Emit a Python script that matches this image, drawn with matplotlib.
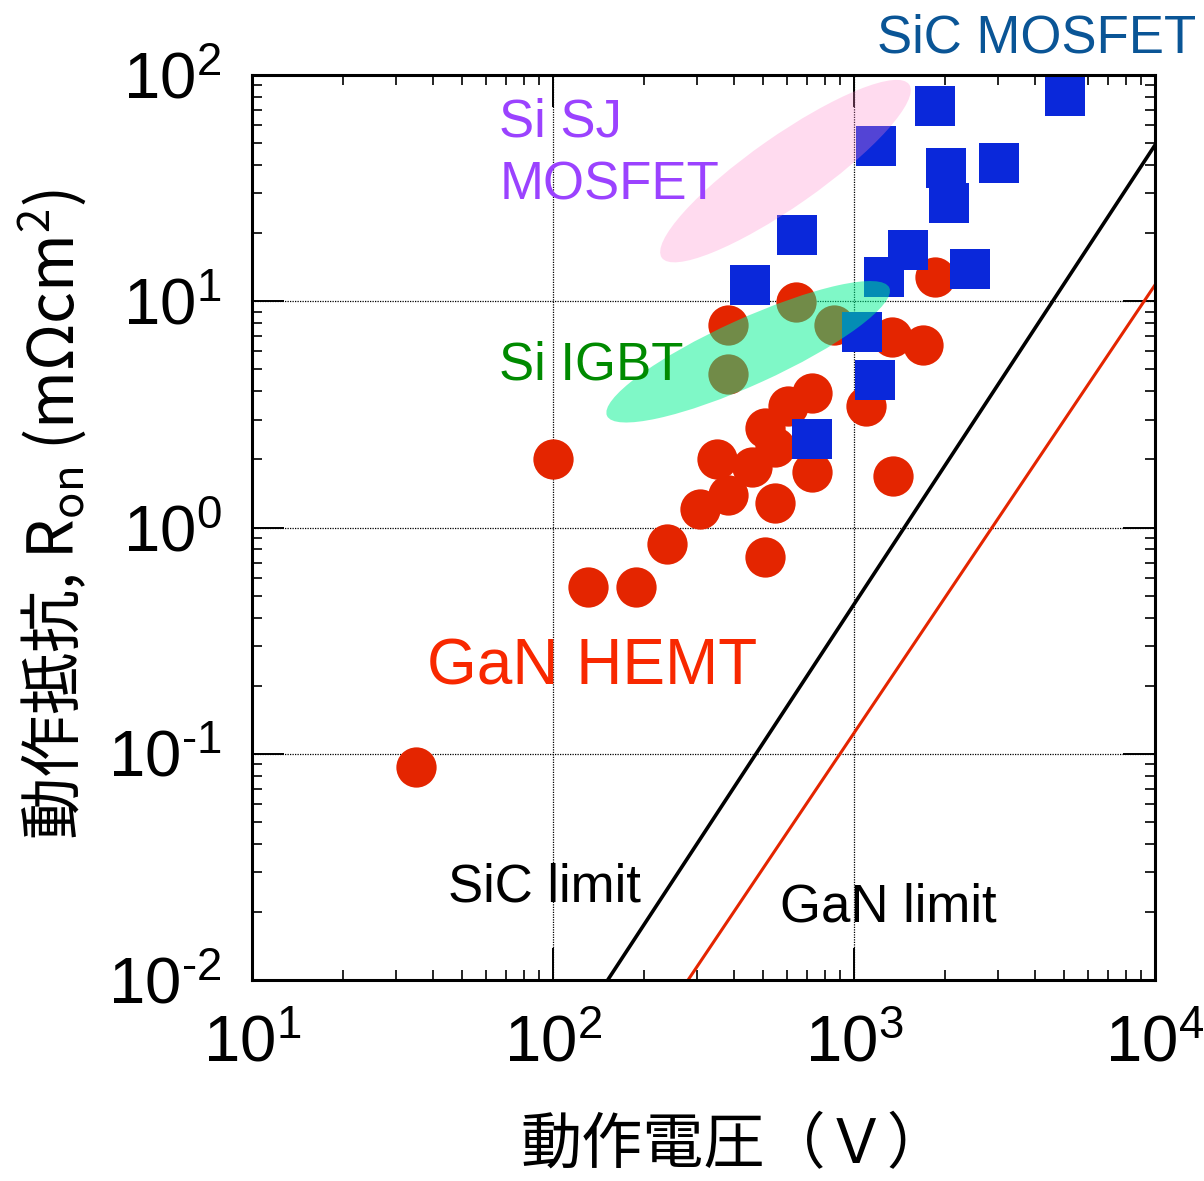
import matplotlib
matplotlib.use('Agg')
import matplotlib.pyplot as plt
from matplotlib.patches import Ellipse
from matplotlib.transforms import IdentityTransform
from matplotlib import font_manager
from matplotlib.ticker import LogLocator, NullFormatter

names = {f.name for f in font_manager.fontManager.ttflist}
LAT = 'Liberation Sans'
NARROW = 'Liberation Sans Narrow' if 'Liberation Sans Narrow' in names else LAT
CJK = 'Noto Sans CJK JP'

plt.rcParams['font.family'] = [LAT, CJK, 'DejaVu Sans']
plt.rcParams['mathtext.fontset'] = 'custom'
plt.rcParams['mathtext.rm'] = NARROW
plt.rcParams['mathtext.default'] = 'regular'

# ---------------- data ----------------
gan_V = [35, 100, 131, 189, 240, 308, 351, 382, 457, 505, 547, 547, 505,
         604, 725, 725, 1096, 1349, 381, 381, 641, 857, 1337, 1694, 1858]
gan_R = [0.087, 2.0, 0.545, 0.545, 0.845, 1.21, 2.0, 1.39, 1.86, 2.75, 2.27, 1.28, 0.74,
         3.44, 3.93, 1.76, 3.44, 1.69, 7.85, 4.77, 9.9, 7.85, 6.95, 6.4, 12.8]

sic_V = [5023, 1854, 1180, 2021, 3023, 2068, 646, 1510, 1258, 2421, 451, 1063, 1174, 724]
sic_R = [81.0, 73.1, 48.7, 38.9, 41.0, 27.3, 19.7, 16.8, 12.8, 13.9, 11.8, 7.34, 4.49, 2.46]

sic_limit_V = [152, 10000]
sic_limit_R = [0.01, 49]
gan_limit_V = [281, 10000]
gan_limit_R = [0.01, 11.8]

# region ellipses: centre (V, R)
sj_center = (592, 37.6)
igbt_center = (445, 5.98)

x_ticks = [10, 100, 1000, 10000]
x_tick_labels = ['$10^{1}$', '$10^{2}$', '$10^{3}$', '$10^{4}$']
y_ticks = [0.01, 0.1, 1, 10, 100]
y_tick_labels = ['$10^{\u20102}$', '$10^{\u20101}$', '$10^{0}$', '$10^{1}$', '$10^{2}$']

xlabel = '動作電圧（Ｖ）'
ylabel = '動作抵抗, R$_{on}$ (mΩcm$^{2}$)'

# ---------------- figure ----------------
fig = plt.figure(figsize=(12.04, 11.81), dpi=100)
ax = fig.add_axes([252/1204, 1 - 980/1181, (1155-252)/1204, (980-75)/1181])
ax.set_xscale('log')
ax.set_yscale('log')
ax.set_xlim(10, 10000)
ax.set_ylim(0.01, 100)

ax.plot(gan_V, gan_R, linestyle='none', marker='o', markersize=29,
        color='#e42500', markeredgewidth=0, zorder=2)
ax.plot(sic_V, sic_R, linestyle='none', marker='s', markersize=29,
        color='#0a28da', markeredgewidth=0, zorder=2.1)

ax.plot(sic_limit_V, sic_limit_R, color='black', lw=2.6, zorder=2.5)
ax.plot(gan_limit_V, gan_limit_R, color='#e42500', lw=2.2, zorder=2.5)

cx, cy = ax.transData.transform(sj_center)
ax.add_patch(Ellipse((cx, cy), width=302, height=70, angle=35,
                     transform=IdentityTransform(), facecolor='#ff88cc',
                     edgecolor='none', alpha=0.3, zorder=3))
cx, cy = ax.transData.transform(igbt_center)
ax.add_patch(Ellipse((cx, cy), width=310, height=66, angle=24.4,
                     transform=IdentityTransform(), facecolor='#00f290',
                     edgecolor='none', alpha=0.5, zorder=3))

# axes styling
ax.set_axisbelow(True)
ax.grid(which='major', linestyle=(0, (1, 1)), color='black', linewidth=0.9)
for s in ax.spines.values():
    s.set_linewidth(2.2)
    s.set_zorder(4)
ax.xaxis.set_minor_locator(LogLocator(base=10, subs=range(2, 10), numticks=100))
ax.yaxis.set_minor_locator(LogLocator(base=10, subs=range(2, 10), numticks=100))
ax.xaxis.set_minor_formatter(NullFormatter())
ax.yaxis.set_minor_formatter(NullFormatter())
ax.set_xticks(x_ticks, labels=x_tick_labels)
ax.set_yticks(y_ticks, labels=y_tick_labels)
ax.tick_params(which='both', direction='in', top=True, right=True)
ax.tick_params(which='major', length=23, width=1.4, labelsize=47)
ax.tick_params(which='minor', length=7.2, width=1.2)
ax.tick_params(axis='x', which='major', pad=25)
ax.tick_params(axis='y', which='major', pad=22)
for lbl in ax.get_xticklabels() + ax.get_yticklabels():
    lbl.set_fontfamily(NARROW)

ax.set_xlabel(xlabel, fontsize=44, family=[CJK, 'DejaVu Sans'])
ax.xaxis.set_label_coords(0.534, -0.149)
ax.set_ylabel(ylabel, fontsize=45, family=[CJK, 'DejaVu Sans'])
ax.yaxis.set_label_coords(-0.18, 0.514)

# annotations
t = ax.transAxes
ax.text(0.692, 1.0254, 'SiC MOSFET', transform=t, fontsize=38, color='#0a5596',
        ha='left', va='baseline', family=LAT)
ax.text(0.274, 0.9315, 'Si SJ', transform=t, fontsize=38, color='#9b42ff',
        ha='left', va='baseline', family=LAT, zorder=5)
ax.text(0.274, 0.862, 'MOSFET', transform=t, fontsize=38, color='#9b42ff',
        ha='left', va='baseline', family=LAT, zorder=5)
ax.text(0.274, 0.664, 'Si IGBT', transform=t, fontsize=38, color='#008a00',
        ha='left', va='baseline', family=LAT, zorder=5)
ax.text(0.194, 0.326, 'GaN HEMT', transform=t, fontsize=46, color='#f82800',
        ha='left', va='baseline', family=LAT, zorder=5)
ax.text(0.217, 0.0862, 'SiC limit', transform=t, fontsize=38, color='black',
        ha='left', va='baseline', family=NARROW, zorder=5)
ax.text(0.585, 0.0641, 'GaN limit', transform=t, fontsize=38, color='black',
        ha='left', va='baseline', family=NARROW, zorder=5)

fig.savefig('out.png', dpi=100)
